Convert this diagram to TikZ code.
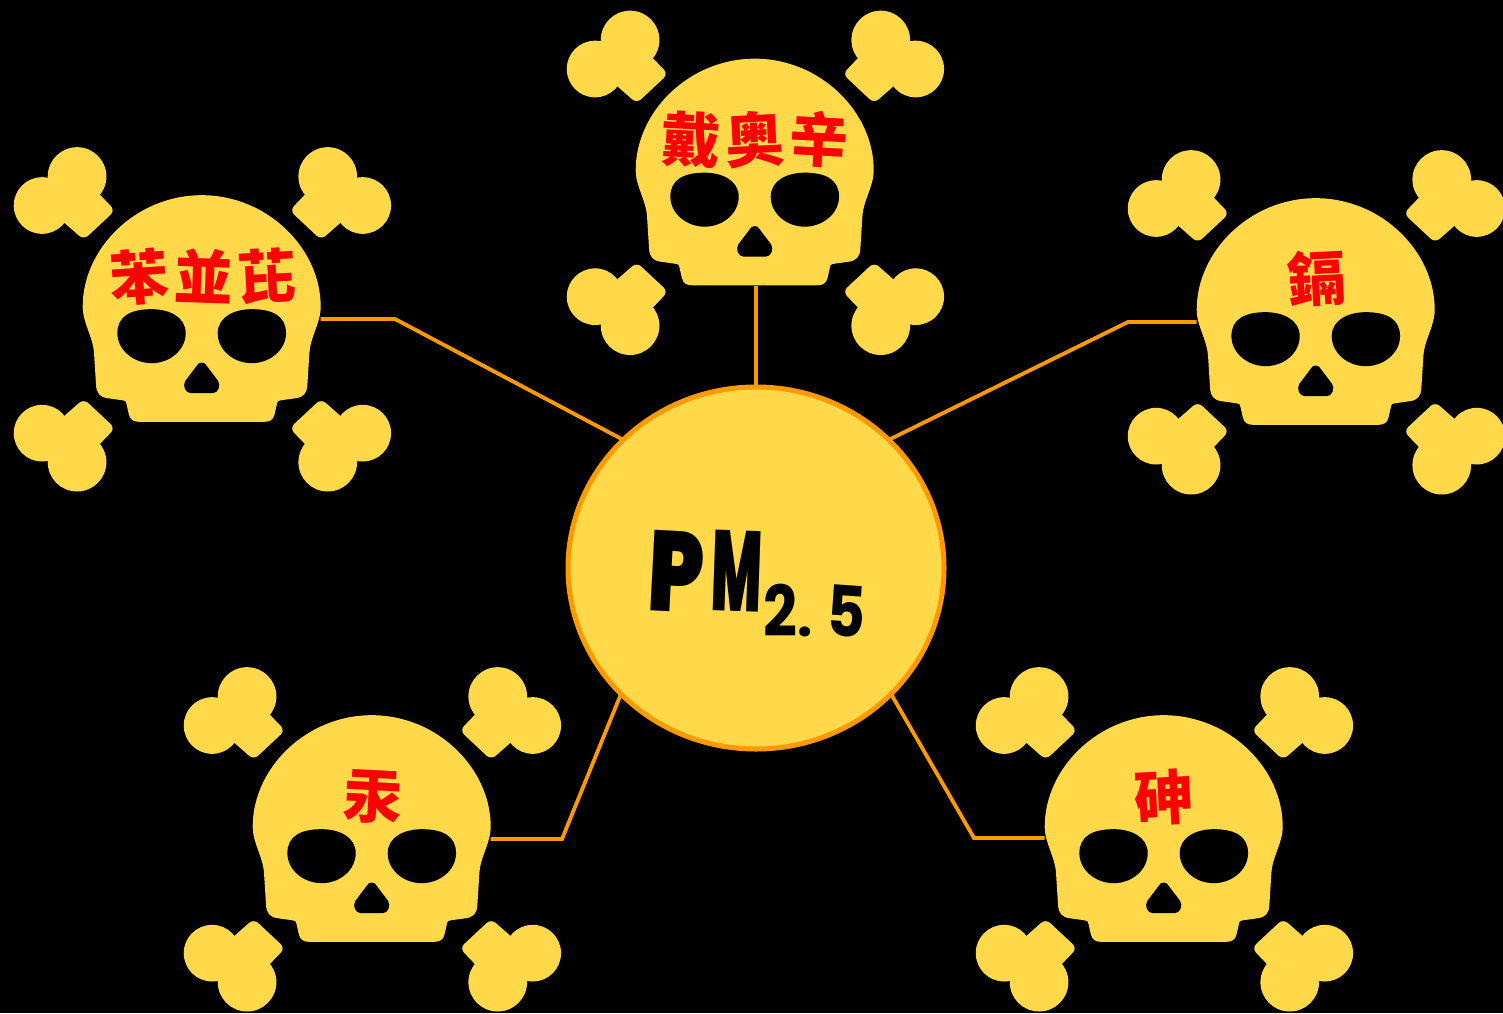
\documentclass[tikz,border=0pt]{standalone}
\usepackage{fontspec}
\usepackage{graphicx}
\usetikzlibrary{shapes.geometric,calc}
\newfontfamily\cjkbold{Noto Sans CJK TC Black}
\newfontfamily\pmfont{Poppins Black}
\newfontfamily\pmdigit{Poppins Bold}
\definecolor{skullyellow}{HTML}{FFD94A}
\definecolor{linkorange}{HTML}{FF9900}
\newcommand\tilt[2]{\rotatebox[origin=c]{#1}{#2}}
\newcommand\bonepart{%
  \fill[skullyellow] (-376,-428.5) circle[radius=88];
  \fill[skullyellow] (-481,-341.5) circle[radius=85];
  \fill[skullyellow,rounded corners=6pt] (-334,-401.5) -- (-262,-326.5) -- (-356,-238.5) -- (-439,-311.5) -- cycle;
}
\newcommand\eyepart{%
  \fill[black] (48,590) .. controls (48,540) and (100,518) .. (150,518) .. controls (215,518) and (253,540) .. (253,590) .. controls (253,640) and (205,680) .. (150,680) .. controls (95,680) and (48,640) .. (48,590) -- cycle;
}
\newcommand\skullshape[3]{%
  \begin{scope}[shift={(#2,#3)},x=0.33333pt,y=-0.33333pt]
    \begin{scope}[xshift=0.7pt,yshift=-182.83pt]
      \foreach \sx/\sy in {1/1,-1/1,1/-1,-1/-1}{
        \begin{scope}[xscale=\sx,yscale=\sy]\bonepart\end{scope}
      }
    \end{scope}
    \fill[skullyellow] (0,176) .. controls (197,176) and (357,336) .. (357,510) .. controls (357,560) and (326,600) .. (323,650) -- (317,745) .. controls (316,770) and (305,782) .. (283,785) -- (240,791) .. controls (225,793) and (227,796) .. (225,805) -- (219,832) .. controls (215,850) and (205,856) .. (187,856) -- (-187,856) .. controls (-205,856) and (-215,850) .. (-219,832) -- (-225,805) .. controls (-227,796) and (-225,793) .. (-240,791) -- (-283,785) .. controls (-305,782) and (-316,770) .. (-317,745) -- (-323,650) .. controls (-326,600) and (-357,560) .. (-357,510) .. controls (-357,336) and (-197,176) .. (0,176) -- cycle;
    \eyepart
    \begin{scope}[xscale=-1]\eyepart\end{scope}
    \fill[black] (0,678) .. controls (8,678) and (11,682) .. (15,688) -- (49,733) .. controls (58,746) and (50,770) .. (33,770) -- (-33,770) .. controls (-50,770) and (-58,746) .. (-49,733) -- (-15,688) .. controls (-11,682) and (-8,678) .. (0,678) -- cycle;
  \end{scope}
  \node[skullbox] (#1) at ($(#2,#3)+(0,172)$) {};
}
\tikzset{
  skullbox/.style={minimum width=238pt,minimum height=227pt,inner sep=0pt,outer sep=0pt},
  skulltext/.style={text=red,inner sep=0pt,font=\cjkbold\fontsize{59}{59}\selectfont},
  link/.style={draw=linkorange,line width=3.8pt,line join=miter},
  hub/.style={ellipse,fill=skullyellow,draw=linkorange,line width=5pt,minimum width=376pt,minimum height=362pt,inner sep=0pt,outer sep=0pt},
}
\begin{document}
\begin{tikzpicture}[x=1pt,y=-1pt]
  \fill[black] (0,0) rectangle (1503,1013);
  \useasboundingbox (0,0) rectangle (1503,1013);
  \skullshape{sa}{754.7}{0}
  \skullshape{sb}{201.7}{136.5}
  \skullshape{sc}{1315.7}{139.5}
  \skullshape{sd}{371.7}{656.5}
  \skullshape{se}{1163.7}{656.5}
  \node[skulltext] (ta) at (755,139) {\tilt{-3}{戴}\kern2pt\tilt{3}{奥}\kern2pt\tilt{-3}{辛}};
  \node[skulltext] (tb) at (203,277) {\tilt{4}{苯}\kern2pt\tilt{-2}{並}\kern2pt\tilt{3}{芘}};
  \node[skulltext] (tc) at (1317,278) {\tilt{3}{鎘}};
  \node[skulltext] (td) at (373,797) {\tilt{-3}{汞}};
  \node[skulltext] (te) at (1164,797) {\tilt{3}{砷}};
  \coordinate (eb) at (395,319);
  \coordinate (ec) at (1128,322);
  \coordinate (ed) at (562,839);
  \coordinate (ee) at (974,838);
  \node[hub] (pm) at (756,568) {};
  \node[inner sep=0pt,font=\pmfont\fontsize{78}{78}\selectfont,text=black] (pmt) at (757,584) {%
    \raisebox{15pt}{\tilt{-3}{\scalebox{1.1}[1.46]{P}}}\kern4pt\raisebox{15pt}{\tilt{-2}{\scalebox{0.68}[1.46]{M}}}\kern0pt\pmdigit\fontsize{54}{54}\selectfont\raisebox{-10pt}{\scalebox{1.1}[1.3]{2}}\raisebox{-10pt}{.}\kern13pt\raisebox{-10pt}{\tilt{-4}{\scalebox{1.1}[1.3]{5}}}};
  \draw[link] (pm.north) -- (pm.north |- sa.south);
  \draw[link] (pm.136) -- (eb) -- (sb.east |- eb);
  \draw[link] (pm.44) -- (ec) -- (sc.west |- ec);
  \draw[link] (pm.223) -- (ed) -- (sd.east |- ed);
  \draw[link] (pm.317) -- (ee) -- (se.west |- ee);
\end{tikzpicture}
\end{document}
